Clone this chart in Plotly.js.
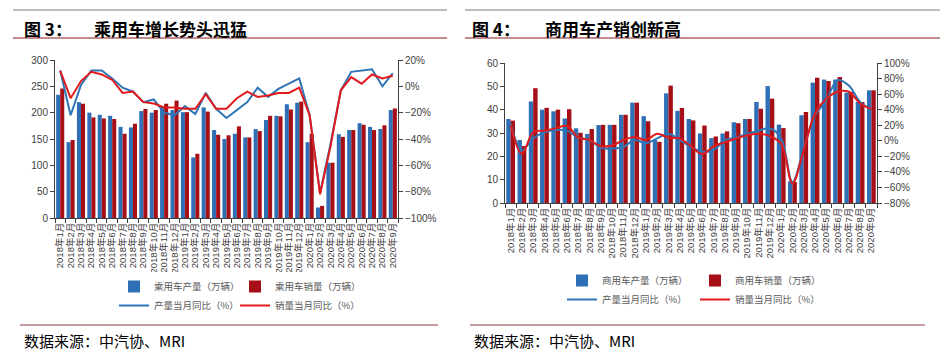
<!DOCTYPE html>
<html><head><meta charset="utf-8">
<script src="https://cdn.plot.ly/plotly-3.0.1.min.js"></script>
<style>
html,body{margin:0;padding:0;background:#fff;width:947px;height:356px;overflow:hidden}
#left{position:absolute;left:0;top:0;width:470px;height:356px}
#right{position:absolute;left:462px;top:0;width:485px;height:356px}
</style></head><body>
<div id="left"></div><div id="right"></div>
<script>
const months = ["2018年1月","2018年2月","2018年3月","2018年4月","2018年5月","2018年6月","2018年7月","2018年8月","2018年9月","2018年10月","2018年11月","2018年12月",
"2019年1月","2019年2月","2019年3月","2019年4月","2019年5月","2019年6月","2019年7月","2019年8月","2019年9月","2019年10月","2019年11月","2019年12月",
"2020年1月","2020年2月","2020年3月","2020年4月","2020年5月","2020年6月","2020年7月","2020年8月","2020年9月"];

// 乘用车
const carProd  = [234,144,220,200,196,194,173,172,203,200,211,205,201,115,210,167,150,160,153,169,186,194,216,219,144,20,105,159,167,180,173,169,205];
const carSales = [246,148,217,191,189,188,160,179,207,205,217,223,201,122,202,158,157,174,153,165,194,193,206,221,160,23,105,154,167,177,167,176,208];
const carProdYoy  = [12,-22,1,12,12,6,-1,-4,-12,-10,-20,-22,-15,-21,-5,-17,-24,-18,-12,-1,-8,-2,2,6,-22,-81,-44,-3,11,12,13,0,10];
const carSalesYoy = [12,-9,4,11,9,5,-5,-4,-12,-13,-16,-16,-17,-17,-6,-17,-17,-9,-4,-8,-7,-5,-5,-1,-22,-82,-46,-3,7,2,9,6,8];

// 商用车
const comProd  = [36,27,43.5,40,39.3,36.2,32,29.6,33.4,33.5,37.8,43,37.2,27,47,39.5,36,29.8,27.8,29.8,34.6,36,43.3,50.1,33.6,9.3,37.6,51.6,52.9,52.9,47.3,43.3,48.3];
const comSales = [35.3,24.4,49.2,40.8,40,40.2,30.1,31.7,33.5,33.5,37.8,43,35,26.2,50.3,40.7,35.4,33.2,28.5,30.7,34.2,36,40.4,44.7,32.1,9,39,53.7,52.3,54,47.6,43.3,48.3];
const comProdYoy  = [22,-12,3,11,14,13,4,1,-9,-10,-8,1,-3,3,9,1,-8,-14,-12,1,4,9,13,16,3,-53,-10,33,52,78,71,50,40];
const comSalesYoy = [20,-17,11,13,16,19,4,1,-7,-6,1,5,1,9,4,3,-7,-17,-7,-2,3,7,9,6,-4,-55,-12,35,54,63,63,48,41];

const BLUE_BAR = '#2E6FB5', RED_BAR = '#A50F15', BLUE_LINE = '#2E75B6', RED_LINE = '#E31A1C';
const FONT = '"Liberation Sans", Arial, "Noto Sans CJK SC", sans-serif';
const CJK = '"Noto Sans CJK SC", sans-serif';

function makePanel(div, W, H, m, names, prod, sales, pYoy, sYoy, y1, y2, spline, title1, title2, deco, legendPos, bargap) {
  const pw = W - m.l - m.r, ph = H - m.t - m.b;
  const px = v => (v - m.l) / pw;          // pixel -> paper x
  const py = v => (H - m.b - v) / ph;      // pixel -> paper y
  const traces = [
    {type:'bar', x:months, y:prod, name:names[0], marker:{color:BLUE_BAR}, yaxis:'y'},
    {type:'bar', x:months, y:sales, name:names[1], marker:{color:RED_BAR}, yaxis:'y'},
    {type:'scatter', mode:'lines', x:months, y:pYoy, name:names[2], yaxis:'y2',
      line:{color:BLUE_LINE, width:2, shape: spline ? 'spline' : 'linear'}},
    {type:'scatter', mode:'lines', x:months, y:sYoy, name:names[3], yaxis:'y2',
      line:{color:RED_LINE, width:2, shape: spline ? 'spline' : 'linear'}}
  ];
  const axisCommon = {showline:true, linecolor:'#404040', linewidth:1, ticks:'outside', ticklen:4,
    tickcolor:'#404040', showgrid:false, zeroline:false, tickfont:{family:FONT, size:10, color:'#404040'}};
  const layout = {
    width:W, height:H, margin:m, paper_bgcolor:'#fff', plot_bgcolor:'#fff',
    barmode:'group', bargap:bargap, bargroupgap:0, showlegend:true,
    xaxis: Object.assign({}, axisCommon, {type:'category', tickmode:'linear', tick0:0, dtick:1, tickangle:-90, tickson:'boundaries',
      tickfont:{family:FONT, size:9.5, color:'#404040'}}),
    yaxis: Object.assign({}, axisCommon, {range:y1.range, dtick:y1.dtick, tick0:0}),
    yaxis2: Object.assign({}, axisCommon, {overlaying:'y', side:'right', range:y2.range, dtick:20, tick0:0, ticksuffix:'%'}),
    legend:{orientation:'h', x:px(legendPos.x), y:py(legendPos.y), xanchor:'left', yanchor:'top',
      font:{family:CJK, size:9.5, color:'#595959'}, traceorder:'normal', itemwidth:30, tracegroupgap:0,
      entrywidth:legendPos.ew, entrywidthmode:'pixels'},
    annotations:[
      {xref:'paper', yref:'paper', x:px(deco.t1x), y:py(28), xanchor:'left', yanchor:'middle', showarrow:false,
        text:'<b>'+title1+'</b>', font:{family:CJK, size:17, color:'#000'}},
      {xref:'paper', yref:'paper', x:px(deco.t2x), y:py(28), xanchor:'left', yanchor:'middle', showarrow:false,
        text:'<b>'+title2+'</b>', font:{family:CJK, size:17, color:'#000'}},
      {xref:'paper', yref:'paper', x:px(deco.sx), y:py(340), xanchor:'left', yanchor:'middle', showarrow:false,
        text:'数据来源：中汽协、MRI', font:{family:CJK, size:15, color:'#000'}}
    ],
    shapes:[
      {type:'line', xref:'paper', yref:'paper', x0:px(deco.top[0]), x1:px(deco.top[1]), y0:py(10), y1:py(10), line:{color:'#7F7F7F', width:1}},
      {type:'line', xref:'paper', yref:'paper', x0:px(deco.top[0]), x1:px(deco.top[1]), y0:py(38), y1:py(38), line:{color:'#8B1A1A', width:1}},
      {type:'line', xref:'paper', yref:'paper', x0:px(deco.bot[0]), x1:px(deco.bot[1]), y0:py(325), y1:py(325), line:{color:'#8B3A3A', width:1}}
    ]
  };
  Plotly.newPlot(div, traces, layout, {staticPlot:true, displayModeBar:false});
}

// Left panel (div at x=0)
makePanel('left', 470, 356, {l:55, r:72, t:60, b:138},
  ['乘用车产量（万辆）','乘用车销量（万辆）','产量当月同比（%）','销量当月同比（%）'],
  carProd, carSales, carProdYoy, carSalesYoy,
  {range:[0,300], dtick:50}, {range:[-100,20]}, false,
  '图 3：', '乘用车增长势头迅猛',
  {t1x:22, t2x:92, sx:22, top:[13,447], bot:[20,438]},
  {x:114, y:272, ew:76}, 0.22);

// Right panel (div at x=462)
makePanel('right', 485, 356, {l:43, r:70, t:63, b:153},
  ['商用车产量（万辆）','商用车销量（万辆）','产量当月同比（%）','销量当月同比（%）'],
  comProd, comSales, comProdYoy, comSalesYoy,
  {range:[0,60], dtick:10}, {range:[-80,100]}, true,
  '图 4：', '商用车产销创新高',
  {t1x:8, t2x:81, sx:10, top:[3,478], bot:[8,463]},
  {x:100, y:266, ew:88}, 0.22);
</script>
</body></html>
